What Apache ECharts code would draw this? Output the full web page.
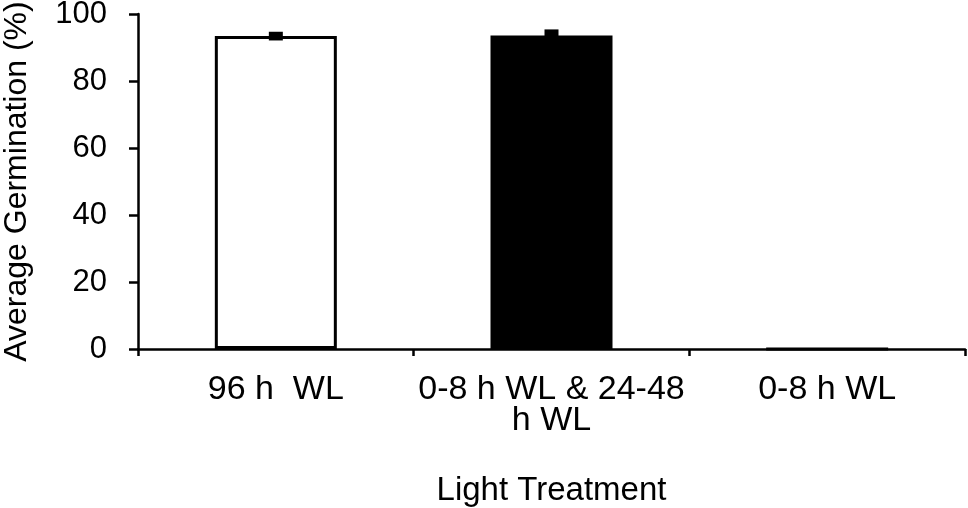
<!DOCTYPE html>
<html>
<head>
<meta charset="utf-8">
<script src="https://cdn.jsdelivr.net/npm/echarts@6/dist/echarts.min.js"></script>
<style>
  html, body { margin: 0; padding: 0; background: #fff; }
  #chart { width: 968px; height: 508px; }
</style>
</head>
<body>
<div id="chart"></div>
<script>
// Germination by light treatment
const categories = ["96 h  WL", "0-8 h WL & 24-48\nh WL", "0-8 h WL"];
const germination = [93.4, 93.6, 0];
const errors = [1.3, 1.8, 0.3];
const barFills = ["#ffffff", "#000000", "#000000"];
const yTicks = [0, 20, 40, 60, 80, 100];

const FONT = "Liberation Sans, Arial, sans-serif";

const chart = echarts.init(document.getElementById("chart"));

chart.setOption({
  animation: false,
  grid: { left: 138, right: 3, top: 14, bottom: 159, outerBoundsMode: "none", containLabel: false },
  xAxis: {
    type: "category",
    data: categories,
    name: "Light Treatment",
    nameLocation: "middle",
    nameGap: 125,
    nameTextStyle: { fontFamily: FONT, fontSize: 33, color: "#000", verticalAlign: "top" },
    axisLine: { lineStyle: { color: "#000", width: 2.5 } },
    axisTick: { show: true, length: 7, lineStyle: { color: "#000", width: 2.5 } },
    axisLabel: {
      interval: 0, margin: 25, fontFamily: FONT, fontSize: 34, color: "#000", lineHeight: 31
    }
  },
  yAxis: {
    type: "value",
    min: 0,
    max: yTicks[yTicks.length - 1],
    interval: 20,
    name: "Average Germination (%)",
    nameLocation: "middle",
    nameGap: 105,
    nameRotate: 90,
    nameTextStyle: { fontFamily: FONT, fontSize: 32, color: "#000" },
    axisLine: { show: true, lineStyle: { color: "#000", width: 2.5 } },
    axisTick: { show: true, length: 9, lineStyle: { color: "#000", width: 2.5 } },
    axisLabel: { margin: 31, fontFamily: FONT, fontSize: 31, color: "#000" },
    splitLine: { show: false }
  },
  series: [
    {
      type: "bar",
      barWidth: 122,
      data: germination.map((v, i) => ({
        value: v,
        itemStyle: { color: barFills[i], borderColor: "#000", borderWidth: 3 }
      }))
    },
    {
      type: "custom",
      z: 5,
      data: germination.map((v, i) => [i, v, errors[i]]),
      renderItem: function (params, api) {
        const x = api.coord([api.value(0), 0])[0];
        const top = api.coord([api.value(0), api.value(1) + api.value(2)])[1];
        const bot = api.coord([api.value(0), api.value(1) - api.value(2)])[1];
        const w = 14;
        return {
          type: "rect",
          shape: { x: x - w / 2, y: top, width: w, height: Math.max(bot - top, 2) },
          style: { fill: "#000" }
        };
      }
    }
  ]
});
</script>
</body>
</html>
